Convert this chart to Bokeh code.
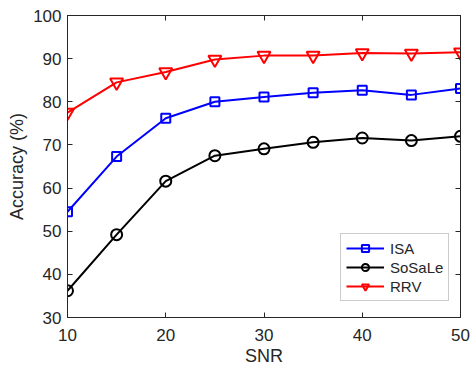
from bokeh.plotting import figure
from bokeh.models import LinearAxis, Range1d, FixedTicker, Legend, LegendItem
from bokeh.embed import file_html
from bokeh.resources import INLINE

snr = [10, 15, 20, 25, 30, 35, 40, 45, 50]
isa = [54.5, 67.3, 76.2, 80.0, 81.1, 82.1, 82.7, 81.6, 83.1]
sosale = [36.2, 49.2, 61.6, 67.5, 69.1, 70.6, 71.6, 71.0, 72.0]
rrv = [77.5, 84.5, 86.9, 89.8, 90.7, 90.7, 91.3, 91.2, 91.5]
x_ticks = [10, 20, 30, 40, 50]
y_ticks = [30, 40, 50, 60, 70, 80, 90, 100]

FONT = "Liberation Sans"
TXT = "#262626"

p = figure(width=476, height=373, output_backend="svg", toolbar_location=None,
           x_range=Range1d(10, 50), y_range=Range1d(30, 100),
           min_border_left=67, min_border_right=16, min_border_top=15, min_border_bottom=56)
p.grid.visible = False
p.outline_line_color = TXT
p.outline_line_width = 1

def style_axis(ax, ticks, labels=True):
    ax.ticker = FixedTicker(ticks=ticks)
    ax.axis_line_color = TXT
    ax.major_tick_line_color = TXT
    ax.major_tick_in = 5
    ax.major_tick_out = 0
    ax.minor_tick_line_color = None
    ax.major_label_text_font = FONT
    ax.major_label_text_color = TXT
    ax.major_label_text_font_size = "17px"
    if not labels:
        ax.major_label_overrides = {t: "" for t in ticks}
        ax.major_label_standoff = 0

style_axis(p.xaxis[0], x_ticks)
style_axis(p.yaxis[0], y_ticks)
p.xaxis[0].axis_label = "SNR"
p.yaxis[0].axis_label = "Accuracy (%)"
for ax in (p.xaxis[0], p.yaxis[0]):
    ax.axis_label_text_font = FONT
    ax.axis_label_text_font_size = "18px"
    ax.axis_label_text_font_style = "normal"
    ax.axis_label_text_color = TXT
p.xaxis[0].major_label_standoff = 11
p.xaxis[0].axis_label_standoff = 2
p.yaxis[0].major_label_standoff = 6
p.yaxis[0].axis_label_standoff = 3

top = LinearAxis()
right = LinearAxis()
style_axis(top, x_ticks, labels=False)
style_axis(right, y_ticks, labels=False)
p.add_layout(top, "above")
p.add_layout(right, "right")

items = []
series = [("ISA", isa, "#0000ff", "square", 9),
          ("SoSaLe", sosale, "#000000", "circle", 11),
          ("RRV", rrv, "#ff0000", "inverted_triangle", 13)]
for name, ys, col, mk, sz in series:
    l = p.line(snr, ys, line_color=col, line_width=2)
    s = p.scatter(snr, ys, marker=mk, size=sz, line_color=col, fill_color=None, line_width=2)
    items.append(LegendItem(label=name, renderers=[l, s]))

leg = Legend(items=items, location=(273, 16))
leg.label_text_font = FONT
leg.label_text_font_size = "15px"
leg.label_text_color = TXT
leg.border_line_color = "#999999"
leg.border_line_width = 1
leg.background_fill_color = "white"
leg.background_fill_alpha = 1
leg.glyph_width = 38
leg.glyph_height = 18
leg.label_height = 18
leg.label_standoff = 6
leg.padding = 5
leg.spacing = 1
leg.margin = 0
p.add_layout(leg, "center")

open("out.html", "w").write(file_html(p, INLINE))
